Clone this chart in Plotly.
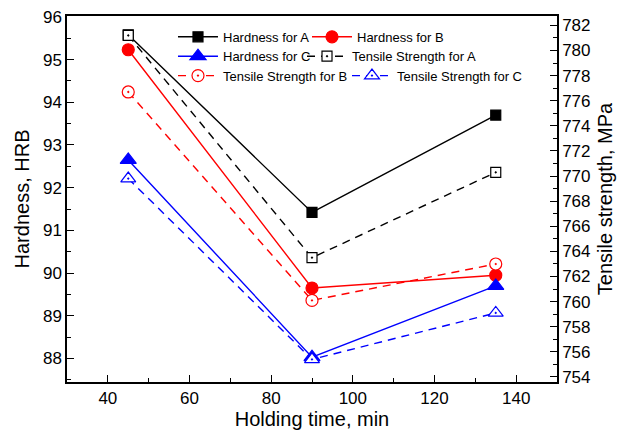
import plotly.graph_objects as go

time_min = [45, 90, 135]
hard_A = [95.58, 91.42, 93.70]
hard_B = [95.23, 89.65, 89.95]
hard_C = [92.65, 88.03, 89.70]
ts_A = [781.2, 763.5, 770.3]
ts_B = [776.7, 760.1, 763.0]
ts_C = [769.8, 755.4, 759.1]

FONT = "Liberation Sans, Arial, sans-serif"
fig = go.Figure()

def add(y, name, color, symbol, size, dash, axis, legend, fill=None):
    fig.add_trace(go.Scatter(
        x=time_min, y=y, name=name, mode="lines+markers", yaxis=axis,
        legend=legend,
        line=dict(color=color, width=1.4, dash=dash),
        marker=dict(color=fill or color, symbol=symbol, size=size,
                    line=dict(color=color, width=1.2)),
    ))

add(hard_A, "Hardness for A", "black", "square", 10, "solid", "y", "legend")
add(hard_B, "Hardness for B", "#ff0000", "circle", 12, "solid", "y", "legend2")
add(hard_C, "Hardness for C", "#0000ff", "triangle-up", 14, "solid", "y", "legend3")
add(ts_A, "Tensile Strength for A", "black", "square-dot", 10, "8px,6px", "y2", "legend4", "white")
add(ts_B, "Tensile Strength for B", "#ff0000", "circle-dot", 12, "8px,6px", "y2", "legend5", "white")
add(ts_C, "Tensile Strength for C", "#0000ff", "triangle-up-dot", 13, "8px,6px", "y2", "legend6", "white")

axis_common = dict(showline=True, linecolor="black", linewidth=1.5, automargin=False,
                   ticks="inside", tickcolor="black", ticklen=7, tickwidth=1.2,
                   showgrid=False, zeroline=False, ticklabeloverflow="allow",
                   tickfont=dict(family=FONT, size=17, color="black"),
                   title_font=dict(family=FONT, size=20, color="black"))

def leg(x, y):
    return dict(orientation="h", x=x, y=y, xanchor="left", yanchor="top",
                itemwidth=40, bgcolor="rgba(0,0,0,0)", tracegroupgap=0,
                font=dict(family=FONT, size=13, color="black"))

# page body has an 8px margin: the figure is sized/offset to compensate
fig.update_layout(
    width=618, height=428,
    margin=dict(l=59, r=69, t=8, b=54),
    paper_bgcolor="white", plot_bgcolor="white",
    font=dict(family=FONT, color="black"),
    xaxis=dict(range=[30, 150], dtick=20, tick0=40, mirror=True,
               title=dict(text="Holding time, min", standoff=4),
               minor=dict(dtick=10, tick0=30, ticks="inside", ticklen=4, tickcolor="black"),
               **axis_common),
    yaxis=dict(range=[87.45, 96.02], dtick=1, tick0=88,
               title=dict(text="Hardness, HRB", standoff=8),
               minor=dict(dtick=0.5, ticks="inside", ticklen=4, tickcolor="black"),
               **axis_common),
    yaxis2=dict(range=[753.6, 782.75], dtick=2, tick0=754, overlaying="y", side="right",
                title=dict(text="Tensile strength, MPa", standoff=8),
                minor=dict(dtick=1, ticks="inside", ticklen=4, tickcolor="black"),
                **axis_common),
    legend=leg(0.2163, 0.984),
    legend2=leg(0.4898, 0.984),
    legend3=leg(0.2163, 0.931),
    legend4=leg(0.4796, 0.931),
    legend5=leg(0.2163, 0.878),
    legend6=leg(0.5714, 0.878),
    showlegend=True,
)

fig.write_html("out.html")
